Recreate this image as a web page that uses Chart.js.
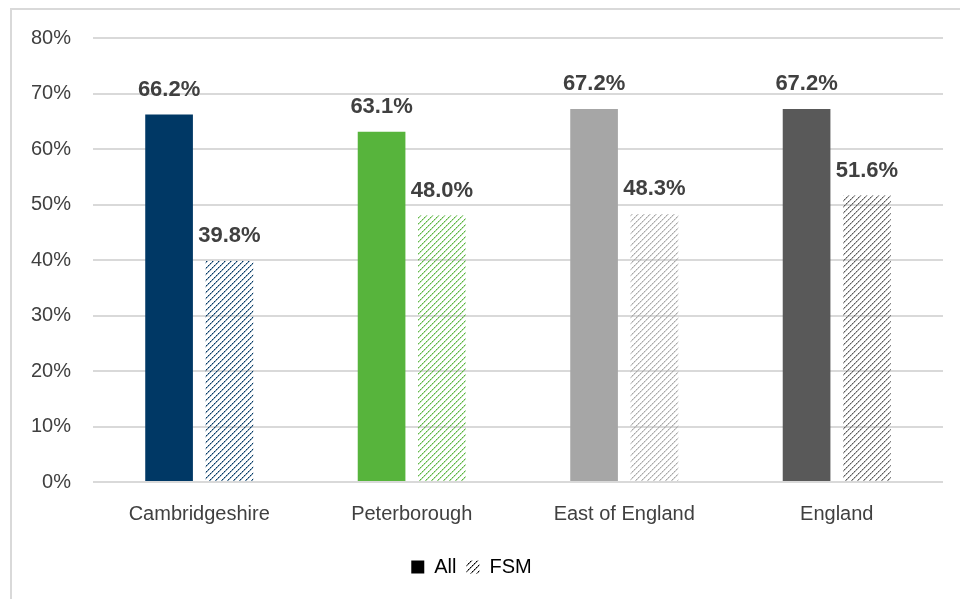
<!DOCTYPE html>
<html>
<head>
<meta charset="utf-8">
<script src="https://cdn.jsdelivr.net/npm/chart.js@4"></script>
<style>
  html, body { margin: 0; padding: 0; background: #fff; }
  #wrap { position: relative; width: 960px; height: 599px; overflow: hidden; }
  #frame { position: absolute; left: 10px; top: 8px; width: 960px; height: 600px;
           border-left: 2px solid #d9d9d9; border-top: 2px solid #d9d9d9; }
  canvas { position: absolute; left: 0; top: 0; }
</style>
</head>
<body>
<div id="wrap">
  <div id="frame"></div>
  <canvas id="chart" width="960" height="599"></canvas>
</div>
<script>
const categories = ['Cambridgeshire', 'Peterborough', 'East of England', 'England'];
const allValues = [66.2, 63.1, 67.2, 67.2];
const fsmValues = [39.8, 48.0, 48.3, 51.6];
const barColors = ['#003865', '#57b43c', '#a6a6a6', '#595959'];
const yTicks = [0, 10, 20, 30, 40, 50, 60, 70, 80];

const FONT = '"Liberation Sans", Arial, sans-serif';

// dotted upward diagonal hatch, like Excel's pattern fill
function hatch(color) {
    const c = document.createElement('canvas');
    c.width = 6; c.height = 6;
    const g = c.getContext('2d');
    g.fillStyle = color;
    for (let i = 0; i < 6; i++) {
        g.globalAlpha = (i % 2 === 0) ? 1 : 0.6;
        g.fillRect(i, 5 - i, 1, 1);
    }
    g.globalAlpha = 0.4;
    for (let i = 0; i < 6; i++) g.fillRect((i + 1) % 6, 5 - i, 1, 1);
    return g.createPattern(c, 'repeat');
}

const fsmPatterns = barColors.map(hatch);

const valueLabels = {
    id: 'valueLabels',
    afterDatasetsDraw(chart) {
        const ctx = chart.ctx;
        ctx.save();
        ctx.font = 'bold 22px ' + FONT;
        ctx.fillStyle = '#404040';
        ctx.textAlign = 'center';
        ctx.textBaseline = 'middle';
        chart.data.datasets.forEach((ds, i) => {
            chart.getDatasetMeta(i).data.forEach((bar, j) => {
                ctx.fillText(ds.data[j].toFixed(1) + '%', bar.x, bar.y - 25);
            });
        });
        ctx.restore();
    }
};

new Chart(document.getElementById('chart'), {
    type: 'bar',
    data: {
        labels: categories,
        datasets: [
            { label: 'All', data: allValues, backgroundColor: barColors },
            { label: 'FSM', data: fsmValues, backgroundColor: fsmPatterns }
        ]
    },
    options: {
        responsive: false,
        animation: false,
        categoryPercentage: 0.568,
        barPercentage: 0.79,
        layout: { padding: { top: 38, right: 17, bottom: 12, left: 0 } },
        scales: {
            x: {
                grid: { display: false },
                border: { display: false },
                ticks: { color: '#404040', font: { family: FONT, size: 20 }, padding: 12 },
                afterFit: s => { s.height = 65; }
            },
            y: {
                min: 0, max: 80,
                afterBuildTicks: s => { s.ticks = yTicks.map(v => ({ value: v })); },
                grid: { color: '#d9d9d9', lineWidth: 2, drawTicks: false },
                border: { display: false },
                ticks: { color: '#404040', font: { family: FONT, size: 20 }, padding: 22,
                         callback: v => v + '%' },
                afterFit: s => { s.width = 93; }
            }
        },
        plugins: {
            tooltip: { enabled: false },
            legend: {
                position: 'bottom',
                labels: {
                    color: '#595959',
                    font: { family: FONT, size: 20 },
                    boxWidth: 13, boxHeight: 13, padding: 10,
                    generateLabels: () => [
                        { text: 'All', fillStyle: '#000', strokeStyle: '#000', lineWidth: 0, datasetIndex: 0 },
                        { text: 'FSM', fillStyle: hatch('#000'), strokeStyle: 'rgba(0,0,0,0)', lineWidth: 0, datasetIndex: 1 }
                    ]
                }
            }
        }
    },
    plugins: [valueLabels]
});
</script>
</body>
</html>
